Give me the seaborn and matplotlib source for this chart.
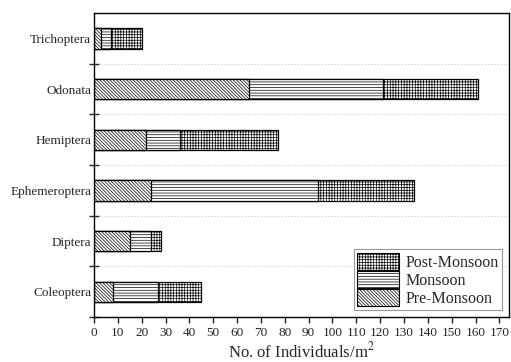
import matplotlib
matplotlib.use("Agg")
import matplotlib.pyplot as plt
from matplotlib.patches import Patch
import seaborn as sns
import pandas as pd
import numpy as np

orders = ["Trichoptera", "Odonata", "Hemiptera", "Ephemeroptera", "Diptera", "Coleoptera"]
pre_monsoon = [3, 65, 22, 24, 15, 8]
monsoon = [4, 56, 14, 70, 9, 19]
post_monsoon = [13, 40, 41, 40, 4, 18]
season_labels = ["Pre-Monsoon", "Monsoon", "Post-Monsoon"]
x_ticks = list(range(0, 171, 10))

sns.set_style("ticks")
plt.rcParams["font.family"] = ["Liberation Serif", "DejaVu Serif"]
plt.rcParams["mathtext.fontset"] = "stix"
plt.rcParams["hatch.linewidth"] = 0.5

pre = np.array(pre_monsoon)
mon = pre + np.array(monsoon)
post = mon + np.array(post_monsoon)

df = pd.DataFrame({"order": orders, "pre": pre, "mon": mon, "post": post})

fig = plt.figure(figsize=(5.11, 3.62), dpi=100)
ax = fig.add_axes([0.184, 0.124, 0.812, 0.840])

hatches = {"post": "+" * 6, "mon": "-" * 6, "pre": "\\" * 10}
for col in ["post", "mon", "pre"]:
    sns.barplot(data=df, x=col, y="order", order=orders, orient="h", ax=ax,
                color="white", edgecolor="black", linewidth=0.9, width=0.4,
                hatch=hatches[col], saturation=1)

ax.set_xlim(0, 174)
ax.set_ylim(5.5, -0.5)
ax.set_xticks(x_ticks)
ax.set_xticklabels([str(t) for t in x_ticks], fontsize=9.5)
ax.tick_params(axis="x", direction="out", length=4, width=1, pad=3)
ax.tick_params(axis="y", which="major", length=0, labelsize=9.5, pad=2)
ax.set_yticks(np.arange(0.5, 5.6, 1.0), minor=True)
ax.tick_params(axis="y", which="minor", direction="inout", length=7, width=1)
ax.grid(True, axis="y", which="minor", linestyle=(0, (2, 2)), color="#d0d0d0", linewidth=0.6)
ax.set_axisbelow(True)
ax.set_ylabel("")
ax.set_xlabel("No. of Individuals/m$^2$", fontsize=12, labelpad=2)

for s in ax.spines.values():
    s.set_visible(True)
    s.set_linewidth(1.0)
    s.set_color("black")

handles = [Patch(facecolor="white", edgecolor="black", hatch=hatches["post"], linewidth=0.8),
           Patch(facecolor="white", edgecolor="black", hatch=hatches["mon"], linewidth=0.8),
           Patch(facecolor="white", edgecolor="black", hatch=hatches["pre"], linewidth=0.8)]
leg = ax.legend(handles, [season_labels[2], season_labels[1], season_labels[0]],
                loc="lower right", fontsize=11.5, frameon=True, fancybox=False,
                handlelength=2.6, handleheight=1.3, labelspacing=0.0,
                handletextpad=0.4, borderpad=0.2, borderaxespad=0.45)
leg.get_frame().set_edgecolor("#808080")
leg.get_frame().set_linewidth(0.8)

fig.savefig("out.png", dpi=100)
